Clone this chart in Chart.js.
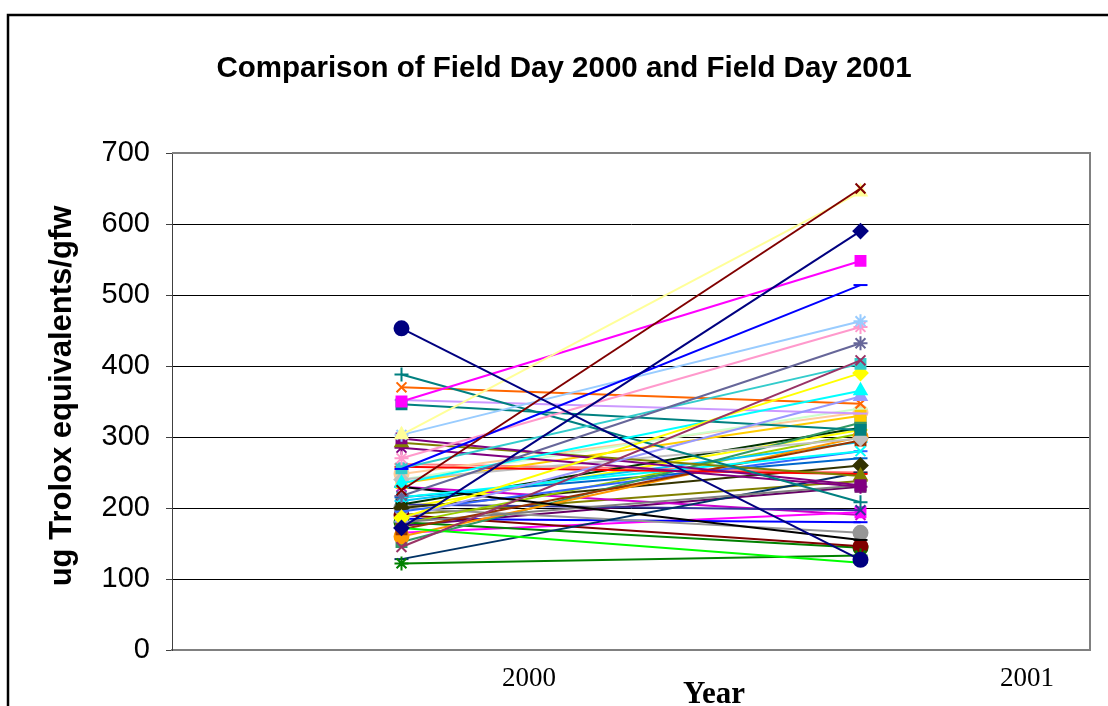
<!DOCTYPE html>
<html>
<head>
<meta charset="utf-8">
<script src="https://cdn.jsdelivr.net/npm/chart.js@4/dist/chart.umd.min.js"></script>
<style>
  html, body { margin: 0; padding: 0; background: #fff; }
  #wrap { width: 1108px; height: 706px; position: relative; }
</style>
</head>
<body>
<div id="wrap"><canvas id="c"></canvas></div>
<script>
// categories and tick labels
const years = ['2000', '2001'];
const yearTickAt = [0.778, 1.863];

// one entry per line: value in 2000, value in 2001
const fd2000 = [453, 225, 303, 172, 350, 255, 303, 270, 217, 145,
                256, 186, 235, 186, 388, 370, 346, 352, 298, 292,
                285, 258, 240, 235, 215, 230, 172, 122, 170, 180,
                160, 152, 128, 240, 210, 248, 195, 178, 200, 205,
                200, 190, 180, 185, 205, 165, 230, 262, 215, 175,
                200, 190];
const fd2001 = [127, 650, 645, 590, 548, 514, 463, 455, 432, 408,
                403, 390, 365, 357, 208, 347, 310, 333, 232, 245,
                230, 248, 298, 330, 280, 155, 123, 133, 295, 232,
                300, 320, 250, 340, 293, 335, 280, 305, 260, 313,
                165, 146, 144, 180, 197, 194, 190, 250, 270, 230,
                310, 238];
const lineColors = ['#000080', '#800000', '#FFFF99', '#000080', '#FF00FF', '#0000FF', '#99CCFF', '#FF99CC', '#666699', '#993366',
                    '#33CCCC', '#FFFF00', '#00FFFF', '#9999FF', '#008080', '#FF6600', '#008080', '#CC99FF', '#800080', '#808000',
                    '#800080', '#FF0000', '#C0C0C0', '#FFCC00', '#00FFFF', '#000000', '#00FF00', '#008000', '#993300', '#808080',
                    '#FF9900', '#339966', '#003366', '#CCFFCC', '#00CCFF', '#FFCC99', '#3366FF', '#99CC00', '#333300', '#003300',
                    '#969696', '#800000', '#008000', '#0000FF', '#333399', '#FF00FF', '#CC00CC', '#FF8080', '#0066CC', '#660066',
                    '#FFFF00', '#808000'];
const markers = ['circle', 'crossRot', 'triangle', 'rectRot', 'rect', 'line', 'star', 'star', 'star', 'crossRot',
                 'rect', 'rectRot', 'triangle', 'triangle', 'cross', 'crossRot', 'rect', 'line', 'rect', 'triangle',
                 'star', 'line', 'rectRot', 'rect', 'crossRot', 'line', 'line', 'star', 'rect', 'rect',
                 'circle', 'rect', 'line', 'line', 'line', 'circle', 'line', 'triangle', 'rectRot', 'rect',
                 'circle', 'circle', 'circle', 'line', 'crossRot', 'rect', 'crossRot', 'line', 'line', 'rect',
                 'line', 'line'];

const datasets = fd2000.map((v, i) => ({
  data: [v, fd2001[i]],
  borderColor: lineColors[i],
  backgroundColor: lineColors[i],
  pointBackgroundColor: lineColors[i],
  pointBorderColor: lineColors[i],
  pointStyle: markers[i],
  pointRadius: 7,
  pointBorderWidth: 2,
  borderWidth: 2,
  tension: 0,
  xAxisID: 'x',
  yAxisID: 'y'
}));

// frame, outer border and text
const decor = {
  id: 'decor',
  beforeDraw(chart) {
    const ctx = chart.ctx;
    ctx.save();
    ctx.fillStyle = '#fff';
    ctx.fillRect(0, 0, chart.width, chart.height);
    ctx.restore();
  },
  afterDraw(chart) {
    const ctx = chart.ctx;
    const a = chart.chartArea;
    ctx.save();
    // plot frame (top/right)
    ctx.strokeStyle = '#808080';
    ctx.lineWidth = 2;
    ctx.beginPath();
    ctx.moveTo(a.left, a.top);
    ctx.lineTo(a.right, a.top);
    ctx.lineTo(a.right, a.bottom);
    ctx.stroke();
    // outer border
    ctx.strokeStyle = '#000';
    ctx.lineWidth = 2.5;
    ctx.beginPath();
    ctx.moveTo(8, chart.height + 5);
    ctx.lineTo(8, 15);
    ctx.lineTo(chart.width + 5, 15);
    ctx.stroke();
    // title
    ctx.fillStyle = '#000';
    ctx.textAlign = 'center';
    ctx.textBaseline = 'middle';
    ctx.font = 'bold 29.5px "Liberation Sans", Arial, sans-serif';
    ctx.fillText('Comparison of Field Day 2000 and Field Day 2001', 564, 69);
    // y title
    ctx.save();
    ctx.translate(62, 396);
    ctx.rotate(-Math.PI / 2);
    ctx.font = 'bold 31px "Liberation Sans", Arial, sans-serif';
    ctx.fillText('ug Trolox equivalents/gfw', 0, 0);
    ctx.restore();
    // x title
    ctx.font = 'bold 31px "Liberation Serif", "Times New Roman", serif';
    ctx.fillText('Year', 714, 695);
    ctx.restore();
  }
};

new Chart(document.getElementById('c'), {
  type: 'line',
  data: { labels: years, datasets },
  options: {
    responsive: true,
    maintainAspectRatio: false,
    animation: false,
    events: [],
    layout: { padding: { left: 0, top: 153, right: 18, bottom: 0 } },
    plugins: { legend: { display: false }, tooltip: { enabled: false }, title: { display: false } },
    scales: {
      x: { type: 'category', offset: true, display: false },
      x2: {
        type: 'linear',
        position: 'bottom',
        min: 0,
        max: 2,
        grid: { display: false },
        border: { display: true, color: '#808080', width: 2 },
        afterBuildTicks: s => { s.ticks = yearTickAt.map(v => ({ value: v })); },
        afterFit: s => { s.height = 56; },
        ticks: {
          autoSkip: false,
          maxRotation: 0,
          padding: 5,
          color: '#000',
          font: { family: '"Liberation Serif", "Times New Roman", serif', size: 27 },
          callback: (v, i) => years[i]
        }
      },
      y: {
        min: 0,
        max: 700,
        afterFit: s => { s.width = 172; },
        grid: { color: '#000', lineWidth: 1, tickLength: 6, tickColor: '#404040' },
        border: { display: true, color: '#404040', width: 1 },
        ticks: {
          stepSize: 100,
          padding: 16,
          color: '#000',
          font: { family: '"Liberation Sans", Arial, sans-serif', size: 29 }
        }
      }
    }
  },
  plugins: [decor]
});
</script>
</body>
</html>
